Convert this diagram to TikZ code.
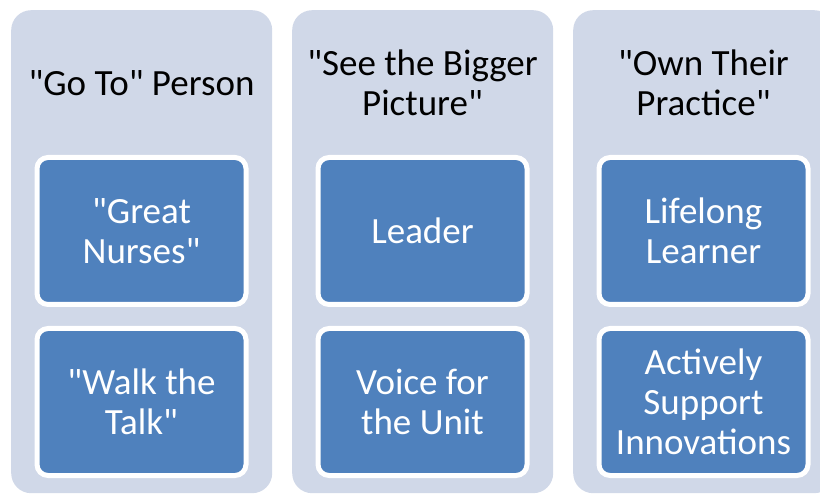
\documentclass[tikz,border=0pt]{standalone}
\usepackage{fontspec}
\setmainfont{Carlito}[Ligatures=TeXOff]
\definecolor{colbg}{HTML}{D0D8E8}
\definecolor{boxblue}{HTML}{4F81BD}
\begin{document}
\begin{tikzpicture}[x=1pt,y=-1pt,
  column/.style={fill=colbg, draw=none, rounded corners=20pt, minimum width=261pt, minimum height=483pt, anchor=north west, inner sep=0pt},
  title/.style={align=center, font=\fontsize{37}{40}\selectfont, text=black, inner sep=0pt},
  item/.style={fill=boxblue, draw=white, line width=5pt, rounded corners=11pt, minimum width=209pt, minimum height=147pt, align=center, text=white, font=\fontsize{37}{40}\selectfont, inner sep=0pt}]
\useasboundingbox (0,0) rectangle (820,494);
\clip (0,0) rectangle (820,494);
\fill[white] (0,0) rectangle (820,494);
\node[column] (c1) at (11,10) {};
\node[column] (c2) at (292,10) {};
\node[column] (c3) at (573,10) {};
\node[title] (t1) at (141.5,83) {"Go To" Person};
\node[title] (t2) at (422.5,83) {"See the Bigger\\Picture"};
\node[title] (t3) at (703.5,83) {"Own Their\\Practice"};
\node[item] (b11) at (141.5,231) {"Great\\Nurses"};
\node[item] (b12) at (141.5,402) {"Walk the\\Talk"};
\node[item] (b21) at (422.5,231) {Leader};
\node[item] (b22) at (422.5,402) {Voice for\\the Unit};
\node[item] (b31) at (703.5,231) {Lifelong\\Learner};
\node[item] (b32) at (703.5,402) {Actively\\Support\\Innovations};
\end{tikzpicture}
\end{document}
